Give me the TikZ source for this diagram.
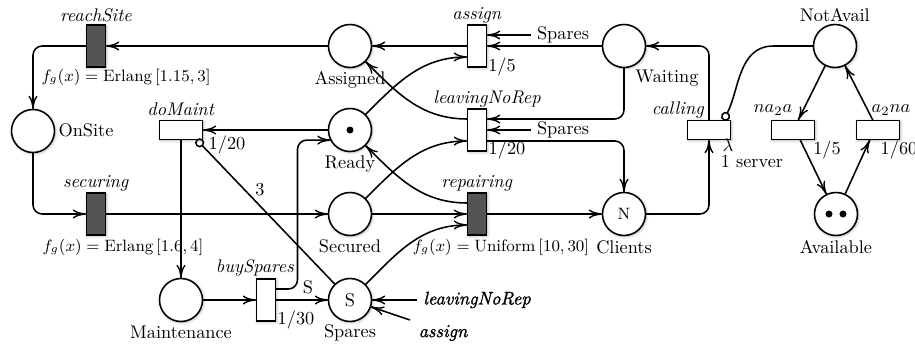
\documentclass[tikz,border=0pt]{standalone}
\usepackage{fontspec}
\usetikzlibrary{arrows.meta,calc,shadows.blur}
\newfontface\heavyit{lmroman10-italic}[Extension=.otf,FakeBold=1.2]

\begin{document}
\begin{tikzpicture}[x=0.5466pt,y=0.5466pt,
  softshadow/.style={blur shadow={shadow xshift=0.5pt,shadow yshift=-0.5pt,
      shadow blur radius=1.6pt,shadow blur steps=6,shadow opacity=30}},
  place/.style={circle,draw,line width=0.85pt,fill=white,minimum size=23.5pt,
      inner sep=0pt,outer sep=0pt,softshadow},
  vtrans/.style={rectangle,draw,line width=0.85pt,fill=white,minimum width=10.4pt,
      minimum height=23pt,inner sep=0pt,outer sep=0pt,softshadow},
  htrans/.style={rectangle,draw,line width=0.85pt,fill=white,minimum width=23.5pt,
      minimum height=10.4pt,inner sep=0pt,outer sep=0pt,softshadow},
  timed/.style={fill=black!67},
  arc/.style={line width=0.85pt,-{Computer Modern Rightarrow[length=7.5pt,width=5pt,line width=0.75pt]}},
  inhib/.style={line width=0.85pt,-{Circle[open,length=5pt,width=5pt]}},
  roundpath/.style={rounded corners=5pt},
  dist/.style={font=\small}
]
\useasboundingbox (0,0) rectangle (915,-346);

% places and transitions
\node[vtrans,timed] (reachSite) at (96,-46) {};
\node[place] (OnSite) at (33,-131) {};
\node[vtrans,timed] (securing) at (96,-214) {};
\node[htrans] (doMaint) at (181,-130) {};
\node[place] (Maintenance) at (181,-300) {};
\node[vtrans] (buySpares) at (266,-300) {};
\node[place] (Assigned) at (350,-46) {};
\node[place] (Ready) at (350,-130) {};
\node[place] (Secured) at (350,-214) {};
\node[place] (Spares) at (350,-300) {S};
\node[vtrans] (assign) at (477,-46) {};
\node[vtrans] (leavingNoRep) at (477,-130) {};
\node[vtrans,timed] (repairing) at (477,-214) {};
\node[place] (Waiting) at (624,-46) {};
\node[place] (Clients) at (624,-214) {\small N};
\node[htrans] (calling) at (709,-130) {};
\node[place] (NotAvail) at (835,-46) {};
\node[htrans] (na2a) at (793,-130) {};
\node[htrans] (a2na) at (878,-130) {};
\node[place] (Available) at (836,-214) {};

% tokens
\fill (Ready.center) circle (3.5);
\fill ($(Available.center)+(-7,0)$) circle (3.5);
\fill ($(Available.center)+(7,0)$) circle (3.5);

% labels
\node (lReachSite) at (96,-15) {\textit{reachSite}};
\node[dist] (dReachSite) at (126,-77) {$f_g(x) = \mathrm{Erlang}\,[1.15, 3]$};
\node (lOnSite) at (86,-130) {OnSite};
\node (lDoMaint) at (181,-109) {\textit{doMaint}};
\node (wDoMaint) at (227,-145) {$1/20$};
\node (lSecuring) at (96,-183) {\textit{securing}};
\node[dist] (dSecuring) at (123,-247) {$f_g(x) = \mathrm{Erlang}\,[1.6, 4]$};
\node (lMaint) at (181,-332) {Maintenance};
\node (lBuy) at (255,-268) {\textit{buySpares}};
\node (wBuy) at (296,-320) {$1/30$};
\node (lS) at (308,-287) {S};
\node (l3) at (260,-190) {3};
\node (lAssigned) at (350,-80) {Assigned};
\node (lReady) at (350,-164) {Ready};
\node (lSecured) at (350,-246) {Secured};
\node (lSpares) at (350,-333) {Spares};
\node (lAssign) at (477,-15) {\textit{assign}};
\node (wAssign) at (502,-67) {$1/5$};
\node (sp1) at (563,-35) {Spares};
\node (lLnr) at (487,-99) {\textit{leavingNoRep}};
\node (sp2) at (563,-130) {Spares};
\node (wLnr) at (507,-150) {$1/20$};
\node (lRep) at (477,-183) {\textit{repairing}};
\node[dist] (dRep) at (501,-247) {$f_g(x) = \mathrm{Uniform}\,[10, 30]$};
\node (tLnr) at (477,-300) {\heavyit leavingNoRep};
\node (tAssign) at (443,-333) {\heavyit assign};
\node (lWaiting) at (667,-78) {Waiting};
\node (lClients) at (624,-247) {Clients};
\node (lCalling) at (678,-110) {\textit{calling}};
\node (lLambda) at (728,-145) {$\lambda$};
\node (lServer) at (752,-162) {1 server};
\node (lNotAvail) at (835,-15) {NotAvail};
\node (lNa2a) at (773,-110) {$na_2a$};
\node (lA2na) at (891,-110) {$a_2na$};
\node (wNa2a) at (827,-150) {$1/5$};
\node (wA2na) at (899,-150) {$1/60$};
\node (lAvailable) at (836,-247) {Available};

% arcs
\draw[arc] (Assigned) -- (reachSite);
\draw[arc,roundpath] (reachSite.west) -| (OnSite.north);
\draw[arc,roundpath] (OnSite.south) |- (securing.west);
\draw[arc] (securing) -- (Secured);
\draw[arc] (Secured) -- (repairing);
\draw[arc] (repairing) -- (Clients);
\draw[arc,roundpath] (Clients.east) -| (calling.south);
\draw[arc,roundpath] (calling.north) |- (Waiting.east);
\draw[arc] (Waiting) -- (assign);
\draw[arc] (sp1.west) -- (sp1.west -| assign.east);
\draw[arc] (assign) -- (Assigned);
\draw[arc] (Ready.45) to[out=45,in=180] ($(assign.west)+(0,-11)$);
\draw[arc] ($(leavingNoRep.west)+(0,11)$) to[out=180,in=-45] (Assigned.-45);
\draw[arc,roundpath] (Waiting.south) |- ($(leavingNoRep.east)+(0,11)$);
\draw[arc] (sp2.west) -- (sp2.west -| leavingNoRep.east);
\draw[arc,roundpath] ($(leavingNoRep.east)+(0,-11)$) -| (Clients.north);
\draw[arc] (Secured.45) to[out=45,in=180] ($(leavingNoRep.west)+(0,-11)$);
\draw[arc] (Ready) -- (doMaint);
\draw[arc] (doMaint) -- (Maintenance);
\draw[arc] (Maintenance) -- (buySpares);
\draw[arc,roundpath] ($(buySpares.east)+(0,11)$) -- ++(22,0) |- (Ready.208);
\draw[arc] (buySpares) -- (Spares);
\draw[inhib] (Spares) -- ($(doMaint.south east)+(-6,0)$);
\draw[arc] (Spares.45) to[out=45,in=180] ($(repairing.west)+(0,-11)$);
\draw[arc] ($(repairing.west)+(0,11)$) to[out=180,in=-45] (Ready.-45);
\draw[arc] (tLnr.west) -- (Spares);
\coordinate (asgTail) at (410,-320);
\draw[arc] (asgTail) -- (Spares.-18);
\draw[inhib] (NotAvail.west) -- ++(-40,0) to[out=180,in=63] ($(calling.north east)+(-7,0)$);
\draw[arc] (NotAvail) -- ($(na2a.north)+(5,0)$);
\draw[arc] ($(a2na.north)+(-5,0)$) -- (NotAvail);
\draw[arc] ($(na2a.south)+(7,0)$) -- (Available);
\draw[arc] (Available) -- ($(a2na.south)+(-8,0)$);
\end{tikzpicture}
\end{document}
